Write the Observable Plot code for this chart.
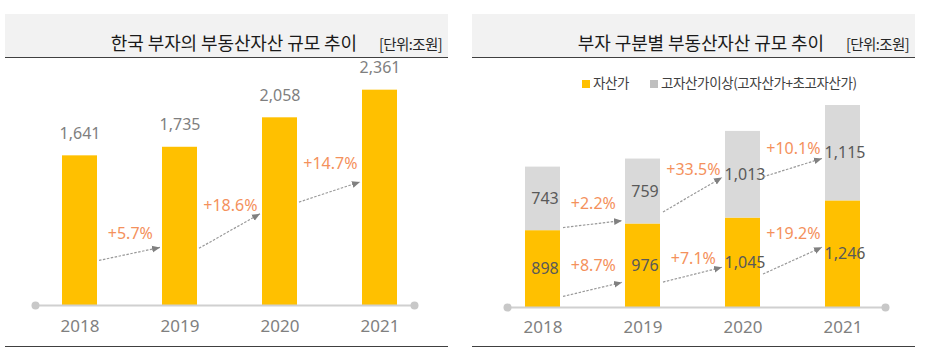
<!DOCTYPE html>
<html>
<head>
<meta charset="utf-8">
<script src="https://cdn.jsdelivr.net/npm/d3@7"></script>
<script src="https://cdn.jsdelivr.net/npm/@observablehq/plot@0.6"></script>
<style>
  body { margin: 0; background: #fff; font-family: "Noto Sans CJK KR", sans-serif; }
  .panel { position: absolute; top: 14px; width: 443px; }
  .head { height: 44px; box-sizing: border-box; background: #f2f2f2; border-bottom: 1.5px solid #404040;
          padding: 17px 6px 0 0; text-align: right; white-space: nowrap; line-height: 22px; }
  .title { font-size: 18px; color: #1a1a1a; font-weight: 400; letter-spacing: -0.1px; }
  .unit { font-size: 14.5px; color: #262626; margin-left: 22px; letter-spacing: -0.6px; }
  .chart { position: relative; height: 288px; border-bottom: 1.5px solid #404040; }
  .chart svg { display: block; }
  .legend { position: absolute; top: 15px; left: 110px; height: 18px; line-height: 18px; font-size: 13.5px;
            color: #404040; white-space: nowrap; letter-spacing: -0.4px; }
  .legend .sw { display: inline-block; width: 8px; height: 8px; margin-right: 3px; vertical-align: 0px; }
  .legend .item + .item { margin-left: 21px; }
</style>
</head>
<body>
<div class="panel" id="leftPanel" style="left:5px">
  <div class="head"><span class="title" id="leftTitle"></span><span class="unit" id="leftUnit"></span></div>
  <div class="chart" id="leftChart"></div>
</div>
<div class="panel" id="rightPanel" style="left:472px">
  <div class="head"><span class="title" id="rightTitle"></span><span class="unit" id="rightUnit"></span></div>
  <div class="chart" id="rightChart"><div class="legend" id="legend"></div></div>
</div>
<script>
// ---------- data ----------
const years = ["2018", "2019", "2020", "2021"];
const totalAssets = [1641, 1735, 2058, 2361];          // 한국 부자의 부동산자산 (조원)
const assetHolders = [898, 976, 1045, 1246];           // 자산가
const highAssetHolders = [743, 759, 1013, 1115];       // 고자산가이상
const seriesNames = ["자산가", "고자산가이상(고자산가+초고자산가)"];
const seriesColors = ["#ffc000", "#d9d9d9"];
const titles = ["한국 부자의 부동산자산 규모 추이", "부자 구분별 부동산자산 규모 추이"];
const unitLabel = "[단위:조원]";

// annotation anchors (in data units)
const leftArrowFrom = [450, 509, 1065];
const leftArrowTo = [683, 1130, 1428];
const leftPctAt = [789, 1096, 1557];
const rightGrayArrowFrom = [907, 980, 1454];
const rightGrayArrowTo = [1044, 1663, 1818];
const rightGrayPctAt = [1214, 1604, 1849];
const rightGoldArrowFrom = [74, 239, 285];
const rightGoldArrowTo = [352, 531, 816];
const rightGoldPctAt = [490, 572, 864];

// ---------- helpers ----------
const fmt = d3.format(",");
const pct = (a, b) => "+" + ((b / a - 1) * 100).toFixed(1) + "%";
const numFont = "Noto Sans, sans-serif";
const pctColor = "#f4915c";

document.getElementById("leftTitle").textContent = titles[0];
document.getElementById("rightTitle").textContent = titles[1];
document.getElementById("leftUnit").textContent = unitLabel;
document.getElementById("rightUnit").textContent = unitLabel;

const legend = document.getElementById("legend");
seriesNames.forEach((name, i) => {
  const item = document.createElement("span");
  item.className = "item";
  const sw = document.createElement("span");
  sw.className = "sw";
  sw.style.background = i === 0 ? seriesColors[0] : "#bfbfbf";
  item.appendChild(sw);
  item.appendChild(document.createTextNode(name));
  legend.appendChild(item);
});

// curve that shortens a two-point link horizontally at each end (pixels)
function insetCurve(a, b) {
  return (context) => {
    let pts = [];
    return {
      lineStart() { pts = []; },
      point(x, y) { pts.push([x, y]); },
      lineEnd() {
        const [[x1, y1], [x2, y2]] = pts;
        const dx = x2 - x1, dy = y2 - y1;
        const t1 = a / dx, t2 = b / dx;
        context.moveTo(x1 + dx * t1, y1 + dy * t1);
        context.lineTo(x2 - dx * t2, y2 - dy * t2);
      },
      areaStart() {}, areaEnd() {}
    };
  };
}

function addArrowheads(svg, id) {
  const ns = "http://www.w3.org/2000/svg";
  const defs = document.createElementNS(ns, "defs");
  defs.innerHTML = `<marker id="${id}" viewBox="0 0 8 8" refX="8" refY="4" markerWidth="8" markerHeight="8" markerUnits="userSpaceOnUse" orient="auto"><path d="M0,0.6 L8,4 L0,7.4 Z" fill="#808080"/></marker>`;
  svg.insertBefore(defs, svg.firstChild);
  svg.querySelectorAll('g[aria-label="link"] path').forEach(p => p.setAttribute("marker-end", `url(#${id})`));
}

const W = 443, H = 288;

// ---------- left chart ----------
{
  const ml = 30, mr = 34, pi = 0.652, po = 0.2085;
  const step = (W - ml - mr) / (years.length - pi + 2 * po);
  const table = years.map((y, i) => ({year: y, value: totalAssets[i]}));
  const arrows = years.slice(0, -1).map((y, i) => ({
    from: y, to: years[i + 1], y1: leftArrowFrom[i], y2: leftArrowTo[i],
    at: leftPctAt[i], label: pct(totalAssets[i], totalAssets[i + 1])
  }));
  const svg = Plot.plot({
    width: W, height: H,
    marginLeft: ml, marginRight: mr, marginTop: 19, marginBottom: 41,
    style: {fontFamily: numFont, background: "transparent", overflow: "visible"},
    x: {type: "band", domain: years, paddingInner: pi, paddingOuter: po, align: 0.607, axis: null},
    y: {domain: [0, 2500], axis: null},
    marks: [
      Plot.barY(table, {x: "year", y: "value", fill: seriesColors[0]}),
      Plot.ruleY([0], {stroke: "#d0d0d0", strokeWidth: 2}),
      Plot.dot([0], {y: d => d, frameAnchor: "left", r: 4, fill: "#c8c8c8", stroke: null}),
      Plot.dot([0], {y: d => d, frameAnchor: "right", r: 4, fill: "#c8c8c8", stroke: null}),
      Plot.text(table, {x: "year", y: "value", text: d => fmt(d.value), dy: -22, fontSize: 16, fill: "#7f7f7f"}),
      Plot.text(table, {x: "year", y: 0, text: "year", dy: 21, fontSize: 17, fill: "#808080"}),
      Plot.link(arrows, {x1: "from", x2: "to", y1: "y1", y2: "y2", stroke: "#999", strokeWidth: 1.2,
        strokeDasharray: "2.5,1.5", curve: insetCurve(19, 20)}),
      Plot.text(arrows, {x: "from", y: "at", text: "label", dx: step / 2, fontSize: 16, fill: pctColor})
    ]
  });
  addArrowheads(svg, "headL");
  document.getElementById("leftChart").appendChild(svg);
}

// ---------- right chart ----------
{
  const ml = 35, mr = 30, pi = 0.647, po = 0.201;
  const step = (W - ml - mr) / (years.length - pi + 2 * po);
  const table = [];
  years.forEach((y, i) => {
    table.push({year: y, series: seriesNames[0], value: assetHolders[i]});
    table.push({year: y, series: seriesNames[1], value: highAssetHolders[i]});
  });
  const arrows = [];
  years.slice(0, -1).forEach((y, i) => {
    arrows.push({from: y, to: years[i + 1], y1: rightGrayArrowFrom[i], y2: rightGrayArrowTo[i],
      at: rightGrayPctAt[i], label: pct(highAssetHolders[i], highAssetHolders[i + 1])});
    arrows.push({from: y, to: years[i + 1], y1: rightGoldArrowFrom[i], y2: rightGoldArrowTo[i],
      at: rightGoldPctAt[i], label: pct(assetHolders[i], assetHolders[i + 1])});
  });
  const svg = Plot.plot({
    width: W, height: H,
    marginLeft: ml, marginRight: mr, marginTop: 18, marginBottom: 39,
    style: {fontFamily: numFont, background: "transparent", overflow: "visible"},
    x: {type: "band", domain: years, paddingInner: pi, paddingOuter: po, align: 0.427, axis: null},
    y: {domain: [0, 2700], axis: null},
    color: {domain: seriesNames, range: seriesColors},
    marks: [
      Plot.barY(table, {x: "year", y: "value", fill: "series", order: seriesNames}),
      Plot.ruleY([0], {stroke: "#d0d0d0", strokeWidth: 2}),
      Plot.dot([0], {y: d => d, frameAnchor: "left", r: 4, fill: "#c8c8c8", stroke: null}),
      Plot.dot([0], {y: d => d, frameAnchor: "right", r: 4, fill: "#c8c8c8", stroke: null}),
      Plot.text(table, Plot.stackY({x: "year", y: "value", z: "series", order: seriesNames,
        text: d => fmt(d.value), dx: 2, fontSize: 16, fill: "#595959"})),
      Plot.text(years, {x: d => d, y: 0, text: d => d, dy: 20, fontSize: 17, fill: "#808080"}),
      Plot.link(arrows, {x1: "from", x2: "to", y1: "y1", y2: "y2", stroke: "#999", strokeWidth: 1.2,
        strokeDasharray: "2.5,1.5", curve: insetCurve(20, 21)}),
      Plot.text(arrows, {x: "from", y: "at", text: "label", dx: step / 2, fontSize: 16, fill: pctColor})
    ]
  });
  addArrowheads(svg, "headR");
  document.getElementById("rightChart").appendChild(svg);
}
</script>
</body>
</html>
